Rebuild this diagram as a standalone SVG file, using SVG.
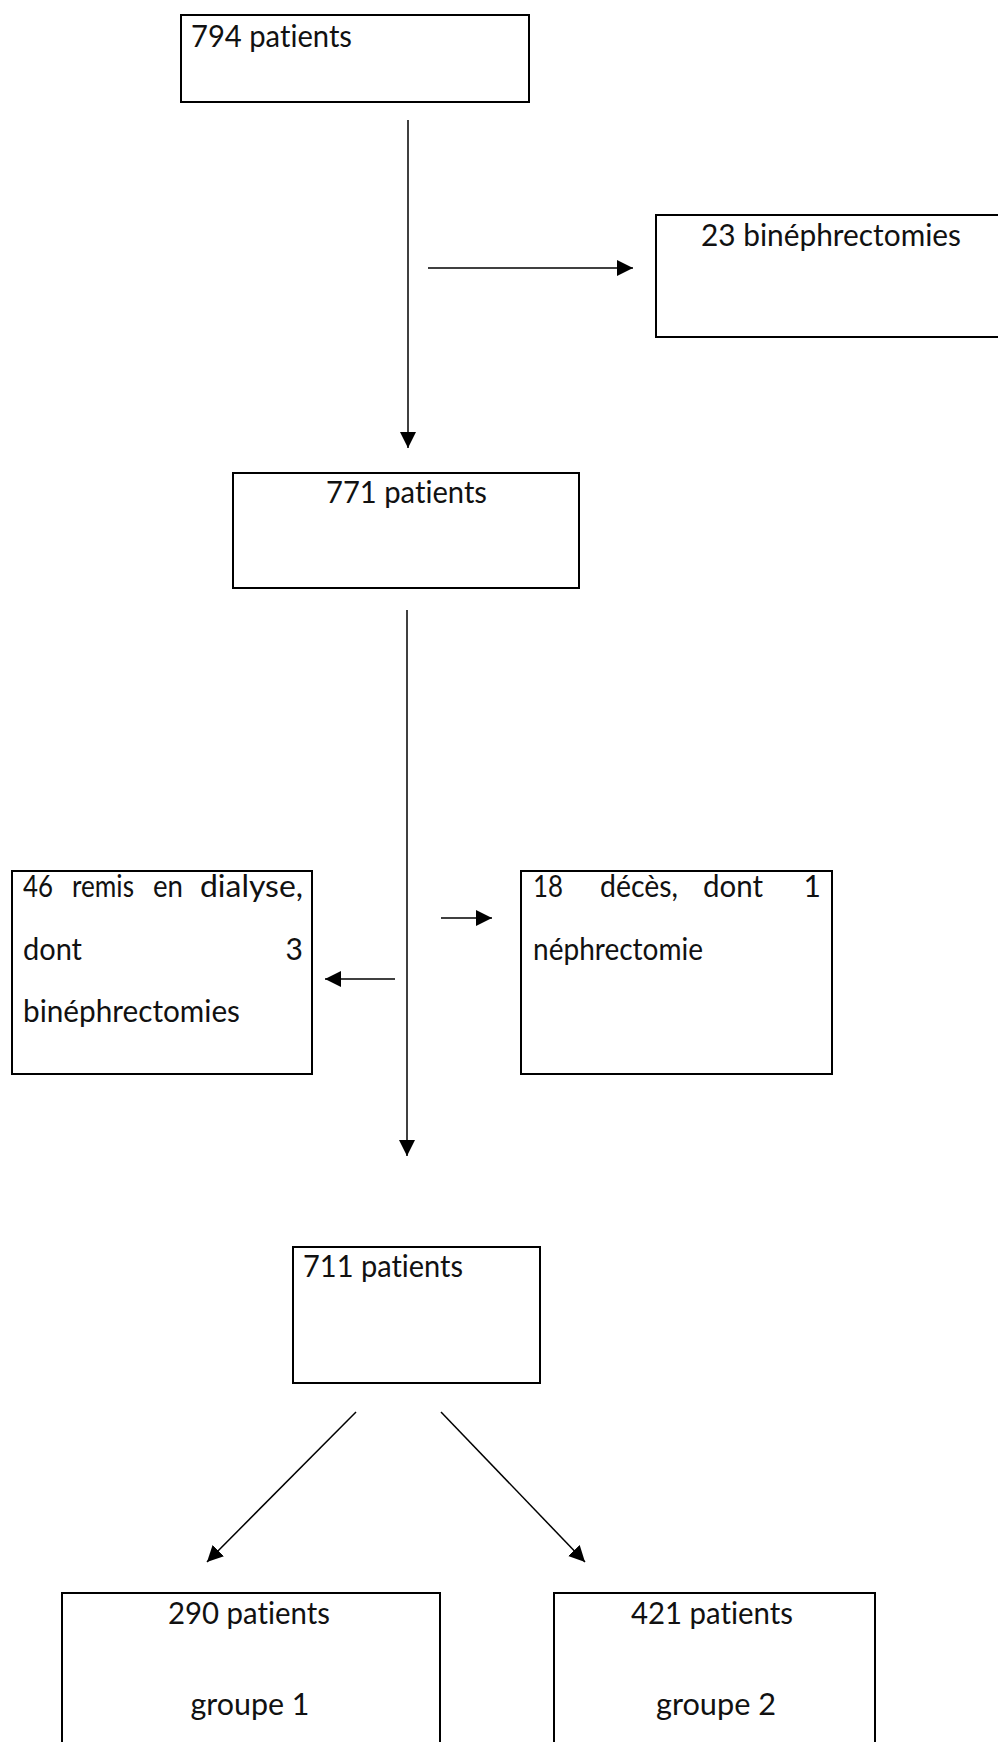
<svg xmlns="http://www.w3.org/2000/svg" width="998" height="1742" viewBox="0 0 998 1742">
<style>
.box{fill:#fff;stroke:#000;stroke-width:2}
.t{font-family:Lato,"Liberation Sans",sans-serif;font-size:30px;fill:#111;font-variant-ligatures:none;font-feature-settings:"liga" 0,"clig" 0,"dlig" 0}
.m{text-anchor:middle}
.e{text-anchor:end}
.c{stroke:#000;stroke-width:1.5;fill:none;marker-end:url(#ah)}
</style>
<defs>
<marker id="ah" markerUnits="userSpaceOnUse" markerWidth="17" markerHeight="17" refX="16" refY="8" orient="auto">
<path d="M0,0 L16,8 L0,16 z" fill="#000"/>
</marker>
</defs>
<rect width="998" height="1742" fill="#fff"/>
<g id="connectors">
<line class="c" x1="408" y1="120" x2="408" y2="448"/>
<line class="c" x1="428" y1="268" x2="633" y2="268"/>
<line class="c" x1="407" y1="610" x2="407" y2="1156"/>
<line class="c" x1="441" y1="918" x2="492" y2="918"/>
<line class="c" x1="395" y1="979" x2="325" y2="979"/>
<line class="c" x1="356" y1="1412" x2="207" y2="1562"/>
<line class="c" x1="441" y1="1412" x2="585" y2="1562"/>
</g>
<g id="n794">
<rect class="box" x="181" y="15" width="348" height="87"/>
<text class="t" x="191" y="47" textLength="161" lengthAdjust="spacingAndGlyphs">794 patients</text>
</g>
<g id="n23">
<rect class="box" x="656" y="215" width="400" height="122"/>
<text class="t" x="701" y="246" textLength="260" lengthAdjust="spacingAndGlyphs">23 binéphrectomies</text>
</g>
<g id="n771">
<rect class="box" x="233" y="473" width="346" height="115"/>
<text class="t" x="326" y="503" textLength="161" lengthAdjust="spacingAndGlyphs">771 patients</text>
</g>
<g id="n46">
<rect class="box" x="12" y="871" width="300" height="203"/>
<text class="t" x="23" y="897" textLength="30" lengthAdjust="spacingAndGlyphs">46</text>
<text class="t" x="72" y="897" textLength="62" lengthAdjust="spacingAndGlyphs">remis</text>
<text class="t" x="153" y="897" textLength="30" lengthAdjust="spacingAndGlyphs">en</text>
<text class="t" x="200" y="897" textLength="103" lengthAdjust="spacingAndGlyphs">dialyse,</text>
<text class="t" x="23" y="960" textLength="59" lengthAdjust="spacingAndGlyphs">dont</text>
<text class="t e" x="303" y="960">3</text>
<text class="t" x="23" y="1022" textLength="217" lengthAdjust="spacingAndGlyphs">binéphrectomies</text>
</g>
<g id="n18">
<rect class="box" x="521" y="871" width="311" height="203"/>
<text class="t" x="533" y="897" textLength="30" lengthAdjust="spacingAndGlyphs">18</text>
<text class="t" x="600" y="897" textLength="78" lengthAdjust="spacingAndGlyphs">décès,</text>
<text class="t" x="703" y="897" textLength="60" lengthAdjust="spacingAndGlyphs">dont</text>
<text class="t e" x="821" y="897">1</text>
<text class="t" x="533" y="960" textLength="170" lengthAdjust="spacingAndGlyphs">néphrectomie</text>
</g>
<g id="n711">
<rect class="box" x="293" y="1247" width="247" height="136"/>
<text class="t" x="303" y="1277" textLength="160" lengthAdjust="spacingAndGlyphs">711 patients</text>
</g>
<g id="n290">
<rect class="box" x="62" y="1593" width="378" height="200"/>
<text class="t m" x="249" y="1624" textLength="162" lengthAdjust="spacingAndGlyphs">290 patients</text>
<text class="t m" x="250" y="1715" textLength="119" lengthAdjust="spacingAndGlyphs">groupe 1</text>
</g>
<g id="n421">
<rect class="box" x="554" y="1593" width="321" height="200"/>
<text class="t m" x="712" y="1624" textLength="162" lengthAdjust="spacingAndGlyphs">421 patients</text>
<text class="t m" x="716" y="1715" textLength="120" lengthAdjust="spacingAndGlyphs">groupe 2</text>
</g>
</svg>
